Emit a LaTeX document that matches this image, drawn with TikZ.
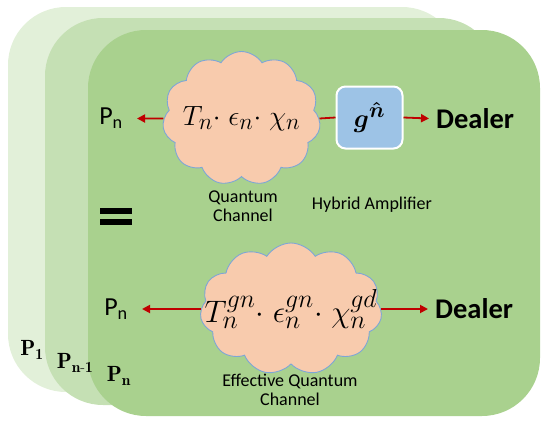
\documentclass[tikz,border=0pt]{standalone}
\usepackage{fontspec}
\usepackage{amsmath,bm,graphicx}
\setsansfont{Carlito}
\usetikzlibrary{shapes.symbols,arrows.meta}
\definecolor{layA}{HTML}{E2F0D9}
\definecolor{layB}{HTML}{C5E0B4}
\definecolor{layC}{HTML}{A9D18E}
\definecolor{cloudfill}{HTML}{F8CBAD}
\definecolor{cloudline}{HTML}{7EA6D6}
\definecolor{boxfill}{HTML}{9DC3E6}
\definecolor{arr}{HTML}{C00000}
\tikzset{
  layer/.style={rounded corners=58pt},
  qcloud/.style={cloud, cloud puffs=11, cloud puff arc=115, cloud ignores aspect, fill=cloudfill, draw=cloudline, line width=0.9pt, inner sep=0pt},
  mathtext/.style={inner sep=0pt, font=\fontsize{24.88}{28}\selectfont},
  redarrow/.style={draw=arr, line width=1.8pt, -{Triangle[length=8pt,width=8pt]}},
  redline/.style={draw=arr, line width=1.8pt},
  plabel/.style={font=\sffamily\fontsize{26}{28}\selectfont, inner xsep=14pt, inner ysep=2pt},
  dealer/.style={font=\sffamily\bfseries\fontsize{28.5}{32}\selectfont, inner xsep=7pt, inner ysep=2pt},
  small/.style={font=\sffamily\fontsize{18}{19}\selectfont, align=center},
  serifp/.style={font=\fontsize{22}{24}\selectfont, inner sep=0pt}
}
\begin{document}
\begin{tikzpicture}[x=1pt,y=-1pt]
\useasboundingbox (0,0) rectangle (550,426);
% layers
\fill[layA,layer] (8,7) rectangle (460,392);
\fill[layB,layer] (45,18) rectangle (497,405);
\fill[layC,layer] (88,30) rectangle (540,416);
% top row
\node[qcloud, minimum width=158pt, minimum height=134pt] (c1) at (241.5,118.5) {};
\node[mathtext] (t1) at (c1.center) {\scalebox{1.12}{$T_n{\cdot}\;\epsilon_n{\cdot}\;\chi_n$}};
\node[plabel, anchor=east] (p1) at (137,118.5) {P\textsubscript{n}};
\node[draw=white, line width=2pt, fill=boxfill, rounded corners=9pt, minimum width=66pt, minimum height=62pt, inner sep=0pt] (g) at (369.5,117.5) {\fontsize{24.88}{28}\selectfont\scalebox{1.05}{$\bm{g^{\hat{n}}}$}};
\node[dealer, anchor=west] (d1) at (429,118.5) {Dealer};
\draw[redarrow] (c1.west) -- (p1.east);
\draw[redline] (c1.east) -- (g.west);
\draw[redarrow] (g.east) -- (d1.west);
\node[small] (qc) at (243,206) {Quantum\\Channel};
\node[small] (ha) at (372,205) {Hybrid Amplifier};
% equals
\fill[black] (100,208) rectangle (132,214);
\fill[black] (100,218.5) rectangle (132,225);
% bottom row
\node[qcloud, minimum width=182pt, minimum height=132pt] (c2) at (291,309) {};
\node[mathtext] (t2) at (c2.center) {\scalebox{1.25}{$T_n^{gn}{\cdot}\;\epsilon_n^{gn}{\cdot}\;\chi_n^{gd}$}};
\node[plabel, anchor=east] (p2) at (142,309) {P\textsubscript{n}};
\node[dealer, anchor=west] (d2) at (428,309) {Dealer};
\draw[redarrow] (c2.west) -- (p2.east);
\draw[redarrow] (c2.east) -- (d2.west);
\node[small] (eqc) at (290,390) {Effective Quantum\\Channel};
% layer labels
\node[serifp] (l1) at (32,350) {$\mathbf{P_1}$};
\node[serifp] (l2) at (75,363) {$\mathbf{P_{n\text{-}1}}$};
\node[serifp] (l3) at (119,376) {$\mathbf{P_n}$};
\end{tikzpicture}
\end{document}
